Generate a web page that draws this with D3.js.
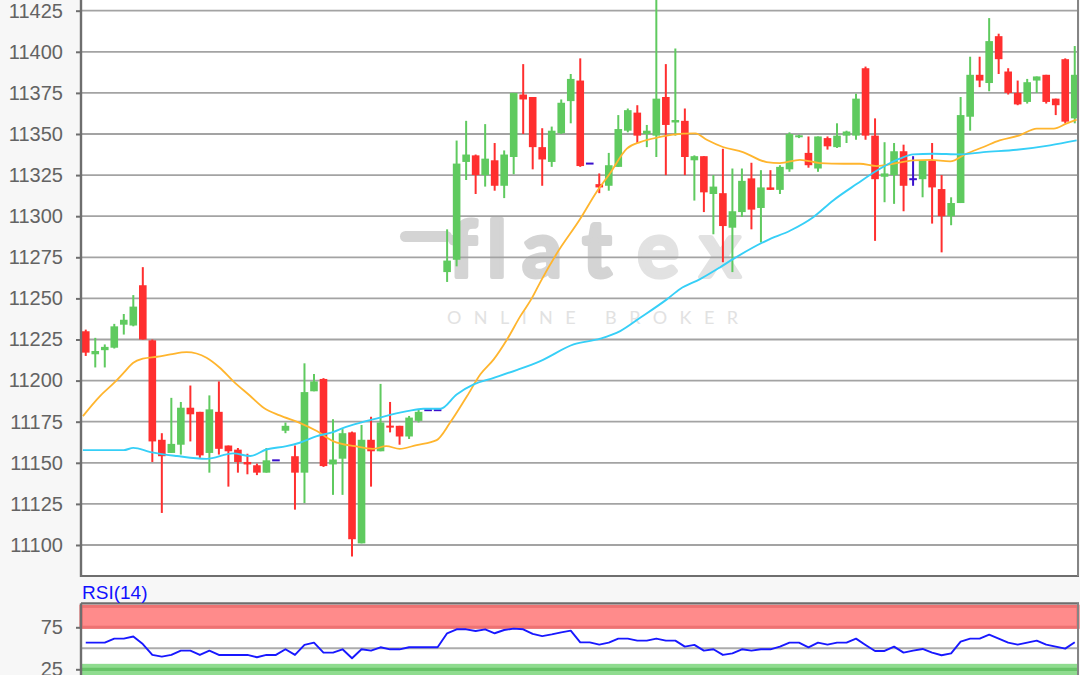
<!DOCTYPE html>
<html><head><meta charset="utf-8">
<script src="https://cdn.jsdelivr.net/npm/d3@7"></script>
<style>html,body{margin:0;padding:0;background:#f7f7f7;overflow:hidden}svg{display:block}</style>
</head><body><svg id="c" width="1080" height="675"></svg>
<script>
// ---- data ----
const open = [11230,11216,11218.5,11220,11234,11233.5,11258,11224.5,11164,11156,11161,11183.5,11181,11156,11181,11160.5,11158,11150.5,11148.5,11144,11151.5,11169.5,11154,11144,11193.5,11201,11149,11152.5,11168.5,11101,11164,11157,11172.5,11172.5,11166,11175.5,11182,11182,11266,11273.5,11333,11337,11325,11334,11318.5,11336,11374,11372.5,11342,11333,11350.5,11370,11382.5,11332,11319.5,11318.5,11330,11352,11363,11350,11349,11372.5,11357,11358,11334,11336.5,11313.5,11314,11293,11302.5,11323,11305,11317.5,11316,11328.5,11348,11338.5,11329,11347.5,11342,11349,11349,11390,11349,11324,11325,11339.5,11322.5,11322.5,11334,11316.5,11300,11308,11360.5,11386,11381,11409.5,11388,11375,11369.5,11382.5,11386,11371.5,11395.5,11359.5];
const high = [11231,11226,11222,11234.5,11240.5,11252,11269,11225,11168,11189.5,11187,11197,11181,11191,11199.5,11160.5,11159,11155.5,11149.5,11159,11151.5,11174.5,11160.5,11210.5,11204,11201.5,11176.5,11170.5,11169,11173,11178,11198,11187,11172.5,11178.5,11182.5,11182,11182,11292,11346,11358,11337.5,11356,11344.5,11340,11375,11392.5,11372.5,11353.5,11354.5,11371,11386.5,11396,11332,11326,11338.5,11361.5,11365.5,11367.5,11355.5,11445,11392.5,11402,11365.5,11337,11336.5,11325,11341,11329,11329,11332.5,11328,11328,11331,11351,11349.5,11348.5,11348.5,11348.5,11356.5,11352,11374.5,11391,11359.5,11345,11344.5,11343.5,11336.5,11334,11344.5,11325,11311.5,11372.5,11397,11397,11420.5,11411,11390,11382.5,11383.5,11385,11386,11371.5,11396,11403.5];
const low = [11215,11208,11208,11219.5,11228,11233,11225,11150.5,11119.5,11156,11155,11163,11153,11144,11155,11135.5,11144,11143,11142.5,11144,11151.5,11168,11121.5,11125.5,11193.5,11147.5,11130.5,11130.5,11093,11101,11135.5,11157,11168.5,11161,11164.5,11174.5,11182,11182,11260,11269.5,11322,11313.5,11318,11315.5,11311,11325.5,11350,11328.5,11318.5,11330,11350,11356.5,11330,11332,11314,11315.5,11330,11351,11344.5,11342,11336,11325,11349,11325,11309.5,11302.5,11289,11272,11266,11299.5,11292,11284,11316,11313.5,11327,11347.5,11329.5,11327,11340.5,11341.5,11344.5,11346.5,11346.5,11285,11308.5,11307.5,11303,11318.5,11311.5,11295.5,11278,11294.5,11308,11352,11378.5,11376,11386.5,11374,11367.5,11368.5,11375,11368.5,11361.5,11356.5,11356.5];
const close = [11217,11218,11220.5,11233,11237,11245,11225,11163,11154,11161.5,11183.5,11179.5,11154.5,11182.5,11158.5,11157,11150.5,11149,11144,11151.5,11151.5,11172.5,11144,11193,11199.5,11148,11152,11168,11103.5,11164,11157,11174.5,11171.5,11166,11177.5,11181,11182,11182,11273,11332,11337.5,11325,11335,11318.5,11337.5,11375,11371,11342,11334.5,11352,11369,11383.5,11330.5,11332,11317.5,11331,11353,11364.5,11349,11352,11371.5,11355.5,11358.5,11336,11336.5,11314.5,11318,11294,11303,11321.5,11304,11317.5,11316,11330,11350,11349.2,11331,11348.5,11342.5,11349,11351.5,11371.5,11349,11322.5,11326,11339.5,11318.5,11322.5,11334,11317.5,11300,11308,11361.5,11386,11382.5,11406.5,11395.5,11375,11368,11381.5,11385,11369.5,11367.5,11357.5,11386];
const slots = open.map((_, i) => i);

const priceTicks = [11100,11125,11150,11175,11200,11225,11250,11275,11300,11325,11350,11375,11400,11425];
const rsiTicks = [75, 25];

// moving averages: positions in candle slots
const maFastPos = [-0.3,1.5,3,4,5,6,7.5,8.9,10.6,12.7,14.1,15.5,17.3,18.7,20.4,22.5,24.3,26,28.3,30.2,31.6,33,34.8,36.9,38.3,40.1,41.5,42.9,44.3,45.7,46.9,47.9,49.5,52,53.7,55.1,56.9,58.3,60.4,62.8,64.1,65.3,67,69.1,71.6,73,75.1,77.2,79.7,81.4,83.2,84.9,87,88.8,90.9,92.6,94.4,96.1,98.2,100,101.8,103.1,104.2];
const maFastVal = [11178.4,11190.6,11198.7,11204.8,11210.9,11213.3,11214.5,11215.9,11217.3,11213.9,11207.8,11199.7,11190.6,11183.5,11178.8,11174.3,11169.3,11163.2,11160.1,11158.5,11160.1,11158.5,11160.8,11163.8,11174.3,11190.6,11203.8,11212.9,11225,11239.2,11250,11261,11277,11298.4,11314.6,11325.8,11341.1,11345.1,11348.2,11350.2,11350.4,11346.5,11342.1,11339,11332.9,11332.3,11334.3,11332.3,11331.9,11331.9,11330.5,11331.9,11333.9,11334.3,11333.3,11338,11342.1,11346.1,11349.2,11353.3,11353.3,11356.3,11358.7];
const maSlowPos = [-0.3,4,5,6.8,9.6,12.7,15.5,17.3,19,21.1,22.5,24.3,26,27.1,28.8,30.2,33.8,35.5,37.3,39,40.8,42.9,45.3,47.8,51.3,54.1,56.2,58.3,61.1,62.5,64.6,66.7,68.1,71.6,74.1,76.5,78.6,81.1,83.2,85.6,87,89.1,91.9,94.4,97.9,101.4,104.2];
const maSlowVal = [11157.7,11157.7,11159.1,11156.5,11154.1,11152.4,11155.7,11154.1,11158.1,11160.1,11162.2,11166.2,11168.7,11171.3,11174.3,11176.4,11181.4,11182.9,11182.9,11191.6,11197.7,11201.7,11206.4,11211.9,11222,11225.5,11230.1,11238.2,11249.4,11255.7,11261.7,11268.9,11274,11285.2,11291.3,11299.4,11309.6,11319.7,11327.8,11335,11337.6,11338,11337.6,11339,11340.4,11343.1,11346.1];

const rsiVal = [56.7,56.7,56.7,61.5,61.5,64,55,42.1,40.1,42.1,47.2,47.2,42.1,47.2,42.1,42.1,42.1,42.1,39.3,42.1,42.1,48.8,42.1,54,56.7,44.8,44.8,48.8,38.1,48.8,47.2,51.2,48.8,48.8,51.2,51.2,51.2,51.2,67.9,72.6,72.6,70.6,72.6,67.9,71.8,73.4,72.6,67.1,64.5,66.5,69,71,57.1,57.1,54.4,56.7,61.5,61.5,59.1,59.1,61.5,59.1,59.1,52,54,47.2,48.8,42.1,44,48.8,47.2,48.8,48.8,52,56.7,56.7,51.2,56.7,54.4,56.7,56.7,61.5,54,46.8,46.8,52,44.8,47.2,49.2,44.8,41.7,44,58,61.5,61.5,66.3,61.5,56.7,54.4,56.7,59.1,54.4,52,49.6,57.1];

// ---- layout ----
const W = 1080, H = 675;
const L = 81, R = 1078, B = 576;
const rT = 603.3;
const svg = d3.select('#c');
const FONT = '"Liberation Sans", Arial, sans-serif';

const x = d3.scaleBand().domain(slots).range([L, 1079.5]).paddingInner(0.2).paddingOuter(0.1);
const xc = i => x(i) + x.bandwidth() / 2;
const xl = d3.scaleLinear().domain([0, slots.length - 1]).range([xc(0), xc(slots.length - 1)]);
const y = d3.scaleLinear().domain([11081.14, 11431.5]).range([B, 0]);
const yr = d3.scaleLinear().domain([18.21, 103.57]).range([H, rT]);

svg.append('rect').attr('width', W).attr('height', H).attr('fill', '#f7f7f7');

// main plot area
svg.append('rect').attr('x', L).attr('y', -5).attr('width', R - L).attr('height', B + 5).attr('fill', '#fff');

// watermark
const wm = svg.append('g');
wm.append('rect').attr('x', 400).attr('y', 231).attr('width', 52).attr('height', 11).attr('rx', 5.5).attr('fill', '#d4d4d4');
const letters = [['f', 463, '#d4d4d4'], ['l', 497, '#d4d4d4'], ['a', 542, '#d4d4d4'], ['t', 597, '#d4d4d4'], ['e', 658, '#e2e2e2'], ['x', 720, '#e2e2e2']];
wm.selectAll('text.wl').data(letters).join('text').attr('class', 'wl')
  .attr('x', d => d[1]).attr('y', 277).attr('text-anchor', 'middle')
  .attr('font-family', 'Lato, "Open Sans", sans-serif').attr('font-weight', 700).attr('font-size', 78)
  .attr('fill', d => d[2]).attr('stroke', d => d[2]).attr('stroke-width', 4).attr('stroke-linejoin', 'round')
  .text(d => d[0]);
wm.append('text').attr('x', 447).attr('y', 324).attr('textLength', 291).attr('lengthAdjust', 'spacing')
  .attr('font-family', 'Lato, "Open Sans", sans-serif').attr('font-size', 18).attr('fill', '#e2e2e2').text('ONLINE BROKER');

// grid
svg.append('g').selectAll('line').data(priceTicks).join('line')
  .attr('x1', L).attr('x2', R).attr('y1', d => y(d)).attr('y2', d => y(d))
  .attr('stroke', '#a3a3a3').attr('stroke-width', 1.8);

// candles
const up = '#5fca5f', dn = '#ff2f2f', dj = '#3a10cc';
const colorOf = i => close[i] > open[i] ? up : (close[i] < open[i] ? dn : dj);
const cg = svg.append('g');
cg.selectAll('line.wick').data(slots).join('line').attr('class', 'wick')
  .attr('x1', xc).attr('x2', xc).attr('y1', i => y(high[i])).attr('y2', i => y(low[i]))
  .attr('stroke', colorOf).attr('stroke-width', 2);
cg.selectAll('rect.body').data(slots).join('rect').attr('class', 'body')
  .attr('x', i => x(i)).attr('width', x.bandwidth())
  .attr('y', i => { const t = y(Math.max(open[i], close[i])), b = y(Math.min(open[i], close[i])); return b - t < 2 ? (t + b) / 2 - 1 : t; })
  .attr('height', i => Math.max(2, y(Math.min(open[i], close[i])) - y(Math.max(open[i], close[i]))))
  .attr('fill', colorOf);

// moving averages
const maLine = d3.line().x(d => xl(d[0])).y(d => y(d[1])).curve(d3.curveMonotoneX);
svg.append('path').datum(maFastPos.map((p, i) => [p, maFastVal[i]])).attr('d', maLine)
  .attr('fill', 'none').attr('stroke', '#ffb52e').attr('stroke-width', 1.8);
svg.append('path').datum(maSlowPos.map((p, i) => [p, maSlowVal[i]])).attr('d', maLine)
  .attr('fill', 'none').attr('stroke', '#36cff7').attr('stroke-width', 1.9);

// borders
svg.append('line').attr('x1', L).attr('x2', L).attr('y1', -5).attr('y2', B + 1).attr('stroke', '#6e6e6e').attr('stroke-width', 2.4);
svg.append('line').attr('x1', L).attr('x2', R + 1).attr('y1', B).attr('y2', B).attr('stroke', '#6e6e6e').attr('stroke-width', 2.2);
svg.append('line').attr('x1', R).attr('x2', R).attr('y1', -5).attr('y2', B).attr('stroke', '#858585').attr('stroke-width', 2);

// price axis
const ya = svg.append('g').attr('transform', `translate(${L},0)`)
  .call(d3.axisLeft(y).tickValues(priceTicks).tickSize(5).tickPadding(13).tickFormat(d3.format('d')));
ya.select('.domain').remove();
ya.selectAll('.tick line').attr('stroke', '#6e6e6e').attr('stroke-width', 2);
ya.selectAll('.tick text').attr('font-family', FONT).attr('font-size', 20).attr('fill', '#636363');

// ---- RSI panel ----
svg.append('rect').attr('x', L).attr('y', rT).attr('width', R - L).attr('height', H - rT + 10).attr('fill', '#fff');
svg.append('rect').attr('x', L).attr('y', yr(100)).attr('width', R - L).attr('height', yr(75) - yr(100))
  .attr('fill', '#ff8b8b').attr('stroke', '#ee7272').attr('stroke-width', 3.2);
svg.append('rect').attr('x', L).attr('y', yr(31.5)).attr('width', R - L).attr('height', H - yr(31.5) + 5).attr('fill', '#8fdc8f');
svg.append('line').attr('x1', L).attr('x2', R).attr('y1', yr(25)).attr('y2', yr(25)).attr('stroke', '#68c468').attr('stroke-width', 3.2);
svg.append('line').attr('x1', L).attr('x2', R).attr('y1', yr(50)).attr('y2', yr(50)).attr('stroke', '#acacac').attr('stroke-width', 2);

svg.append('path').datum(rsiVal.map((v, i) => [i, v]))
  .attr('d', d3.line().x(d => xl(d[0])).y(d => yr(d[1])))
  .attr('fill', 'none').attr('stroke', '#1818ff').attr('stroke-width', 1.9).attr('stroke-linejoin', 'round');

svg.append('line').attr('x1', L).attr('x2', L).attr('y1', rT).attr('y2', H + 2).attr('stroke', '#6e6e6e').attr('stroke-width', 2.4);
svg.append('line').attr('x1', L).attr('x2', R + 1).attr('y1', rT).attr('y2', rT).attr('stroke', '#6e6e6e').attr('stroke-width', 2.2);
svg.append('line').attr('x1', R).attr('x2', R).attr('y1', rT).attr('y2', H + 2).attr('stroke', '#858585').attr('stroke-width', 2);

const ra = svg.append('g').attr('transform', `translate(${L},0)`)
  .call(d3.axisLeft(yr).tickValues(rsiTicks).tickSize(5).tickPadding(13));
ra.select('.domain').remove();
ra.selectAll('.tick line').attr('stroke', '#6e6e6e').attr('stroke-width', 2);
ra.selectAll('.tick text').attr('font-family', FONT).attr('font-size', 20).attr('fill', '#636363');

svg.append('text').attr('x', 82).attr('y', 599).attr('font-family', FONT).attr('font-size', 19)
  .attr('fill', '#1010ff').text('RSI(14)');
</script></body></html>
